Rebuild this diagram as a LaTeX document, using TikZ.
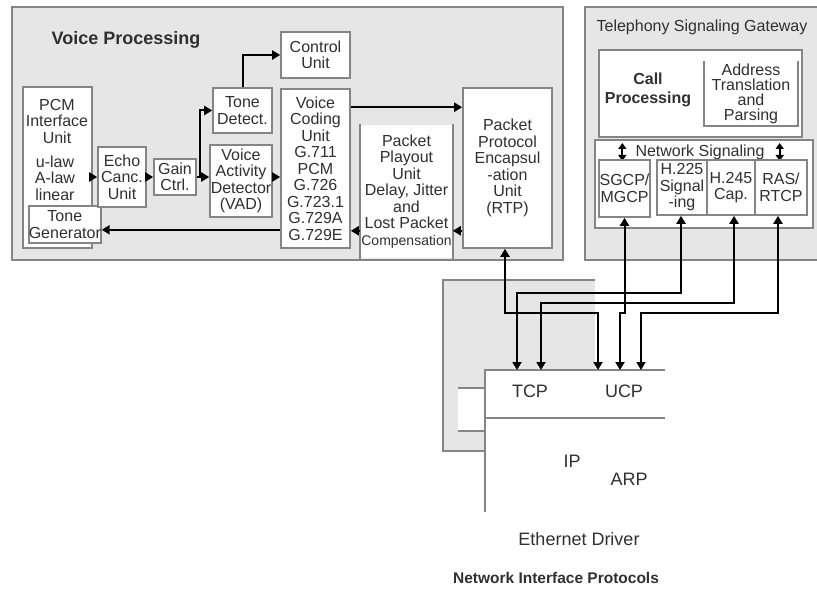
\documentclass[tikz,border=0pt]{standalone}
\usepackage{fontspec}
\setmainfont{Liberation Sans}
\usetikzlibrary{arrows.meta}
\definecolor{panelgray}{HTML}{E6E6E6}
\definecolor{linegray}{HTML}{858585}
\definecolor{textgray}{HTML}{303030}
\newcommand{\boxfont}{\fontsize{16}{16.5}\selectfont}
\newcommand{\netfont}{\fontsize{18}{20}\selectfont}
\tikzset{
  panel/.style={draw=linegray,fill=panelgray,line width=1.6pt},
  edge/.style={draw=linegray,line width=1.6pt},
  unit/.style={draw=linegray,fill=white,line width=1.6pt,inner sep=0pt,
    align=center,text=textgray,font=\boxfont},
  txt/.style={inner sep=0pt,align=center,text=textgray,font=\boxfont},
  flow/.style={line width=2pt,-{Triangle[length=8pt,width=9pt]}},
  duplex/.style={line width=2pt,{Triangle[length=8pt,width=9pt]}-{Triangle[length=8pt,width=9pt]}},
  updown/.style={line width=1.8pt,{Triangle[length=6pt,width=8pt]}-{Triangle[length=6pt,width=8pt]}},
}
\begin{document}
\begin{tikzpicture}[x=1pt,y=-1pt]
\useasboundingbox (0,0) rectangle (817,591);
% panels
\draw[panel] (12,7) rectangle (563,260);
\draw[panel] (585,7) rectangle (830,260);
\fill[panelgray] (443,280) rectangle (595,451);
\draw[edge] (595,280) -- (443,280) -- (443,451) -- (485,451);

% voice processing
\node[font=\fontsize{18}{20}\selectfont\bfseries,text=textgray] (vp) at (126,40) {Voice Processing};
\node[unit,minimum width=69,minimum height=161] (pcm) at (57.5,167.5) {};
\node[txt] (pcmname) at (57,121) {PCM\\Interface\\Unit};
\node[txt] (pcmlaw) at (55,178) {u-law\\A-law\\linear};
\node[unit,anchor=west,minimum width=64,minimum height=37] (tg) at (28,224.5) {Tone\\Generator};
\node[unit,minimum width=48,minimum height=60] (echo) at (122,177) {Echo\\Canc.\\Unit};
\node[unit,minimum width=42,minimum height=36] (gain) at (175,177) {Gain\\Ctrl.};
\node[unit,minimum width=59,minimum height=45] (tone) at (242.5,110.5) {Tone\\Detect.};
\node[unit,minimum width=62,minimum height=72] (vad) at (241,181) {Voice\\Activity\\Detector\\(VAD)};
\node[unit,minimum width=69,minimum height=46] (ctrl) at (315.5,55) {Control\\Unit};
\node[unit,minimum width=69,minimum height=159] (vc) at (315.5,168.5)
  {Voice\\Coding\\Unit\\G.711\\PCM\\G.726\\G.723.1\\G.729A\\G.729E};
\node[unit,draw=none,minimum width=91,minimum height=133] (po) at (406.5,191.5)
  {Packet\\Playout\\Unit\\Delay, Jitter\\and\\Lost Packet\\{\fontsize{14}{15}\selectfont Compensation}};
\draw[edge] (po.north west) -- (po.south west) (po.north east) -- (po.south east);
\node[unit,minimum width=89,minimum height=160] (rtp) at (507.5,168)
  {Packet\\Protocol\\Encapsul\\-ation\\Unit\\(RTP)};

\draw[flow] (pcm.east |- echo.west) -- (echo.west);
\draw[flow] (echo.east) -- (gain.west);
\draw[flow] (gain.east) -- (vad.west |- gain.east);
\draw[flow] ([xshift=3pt]gain.east) |- (tone.west);
\draw[flow] (tone.north) |- (ctrl.west);
\draw[flow] (vad.east |- gain.east) -- (vc.west |- gain.east);
\draw[flow] ([yshift=-19pt]vc.north east) -- ([yshift=-19pt]vc.north east -| rtp.west);
\draw[flow] ([yshift=18pt]rtp.south west) -- ([yshift=18pt]rtp.south west -| po.east);
\draw[flow] ([yshift=18pt]rtp.south west -| po.west) -- ([yshift=18pt]vc.south east);
\draw[flow] ([yshift=19pt]vc.south west) -- ([yshift=19pt]vc.south west -| tg.east);

% telephony signaling gateway
\node[txt,font=\fontsize{16}{18}\selectfont] (tsg) at (702,27) {Telephony Signaling Gateway};
\node[unit,minimum width=203,minimum height=87] (call) at (700.5,93.5) {};
\node[txt,font=\fontsize{16}{19}\selectfont\bfseries] (calltxt) at (648,90) {Call\\Processing};
\node[unit,draw=none,minimum width=92,minimum height=63,font=\fontsize{16}{15}\selectfont] (addr) at (751,93.5)
  {Address\\Translation\\and\\Parsing};
\draw[edge] (addr.north west) -- (addr.south west) -- (addr.south east) -- (addr.north east);
\node[unit,minimum width=218,minimum height=88] (ns) at (704,184) {};
\node[txt] (nstxt) at (700,152) {Network Signaling};
\draw[updown] ([xshift=-13pt,yshift=9pt]nstxt.west) -- ([xshift=-13pt,yshift=-9pt]nstxt.west);
\draw[updown] ([xshift=15pt,yshift=9pt]nstxt.east) -- ([xshift=15pt,yshift=-9pt]nstxt.east);
\node[unit,minimum width=51,minimum height=57] (sgcp) at (624.5,188.5) {SGCP/\\MGCP};
\node[unit,minimum width=50,minimum height=55] (h225) at (682,187.5) {H.225\\Signal\\-ing};
\node[unit,minimum width=48,minimum height=55] (h245) at (731,187.5) {H.245\\Cap.};
\node[unit,minimum width=52,minimum height=55] (ras) at (781,187.5) {RAS/\\RTCP};

% network interface protocols
\fill[white] (458,388) rectangle (485,431);
\draw[edge] (458,388) -- (485,388) (458,431) -- (485,431);
\fill[white] (485,370) rectangle (665,512);
\draw[edge] (665,370) -- (485,370) -- (485,512);
\draw[edge] (485,418) -- (665,418);
\node[txt,font=\netfont] (tcp) at (530,391) {TCP};
\node[txt,font=\netfont] (ucp) at (624,391) {UCP};
\node[txt,font=\netfont] (ip) at (572,461) {IP};
\node[txt,font=\netfont] (arp) at (629,479) {ARP};
\node[txt,font=\netfont] (eth) at (579,539) {Ethernet Driver};
\node[font=\fontsize{15.5}{17}\selectfont\bfseries,text=textgray] (nip) at (556,578) {Network Interface Protocols};
\coordinate (t1) at (517,370);
\coordinate (t2) at (541,370);
\coordinate (t3) at (598,370);
\coordinate (t4) at (620,370);
\coordinate (t5) at (641,370);

\draw[duplex] ([xshift=-2.5pt]rtp.south) -- ++(0,64) -| (t3);
\draw[duplex] (sgcp.south) -- ++(0,95) -| (t4);
\draw[duplex] ([xshift=-1pt]h225.south) -- ++(0,77) -| (t1);
\draw[duplex] ([xshift=3pt]h245.south) -- ++(0,87) -| (t2);
\draw[duplex] ([xshift=-3pt]ras.south) -- ++(0,97) -| (t5);
\end{tikzpicture}
\end{document}
